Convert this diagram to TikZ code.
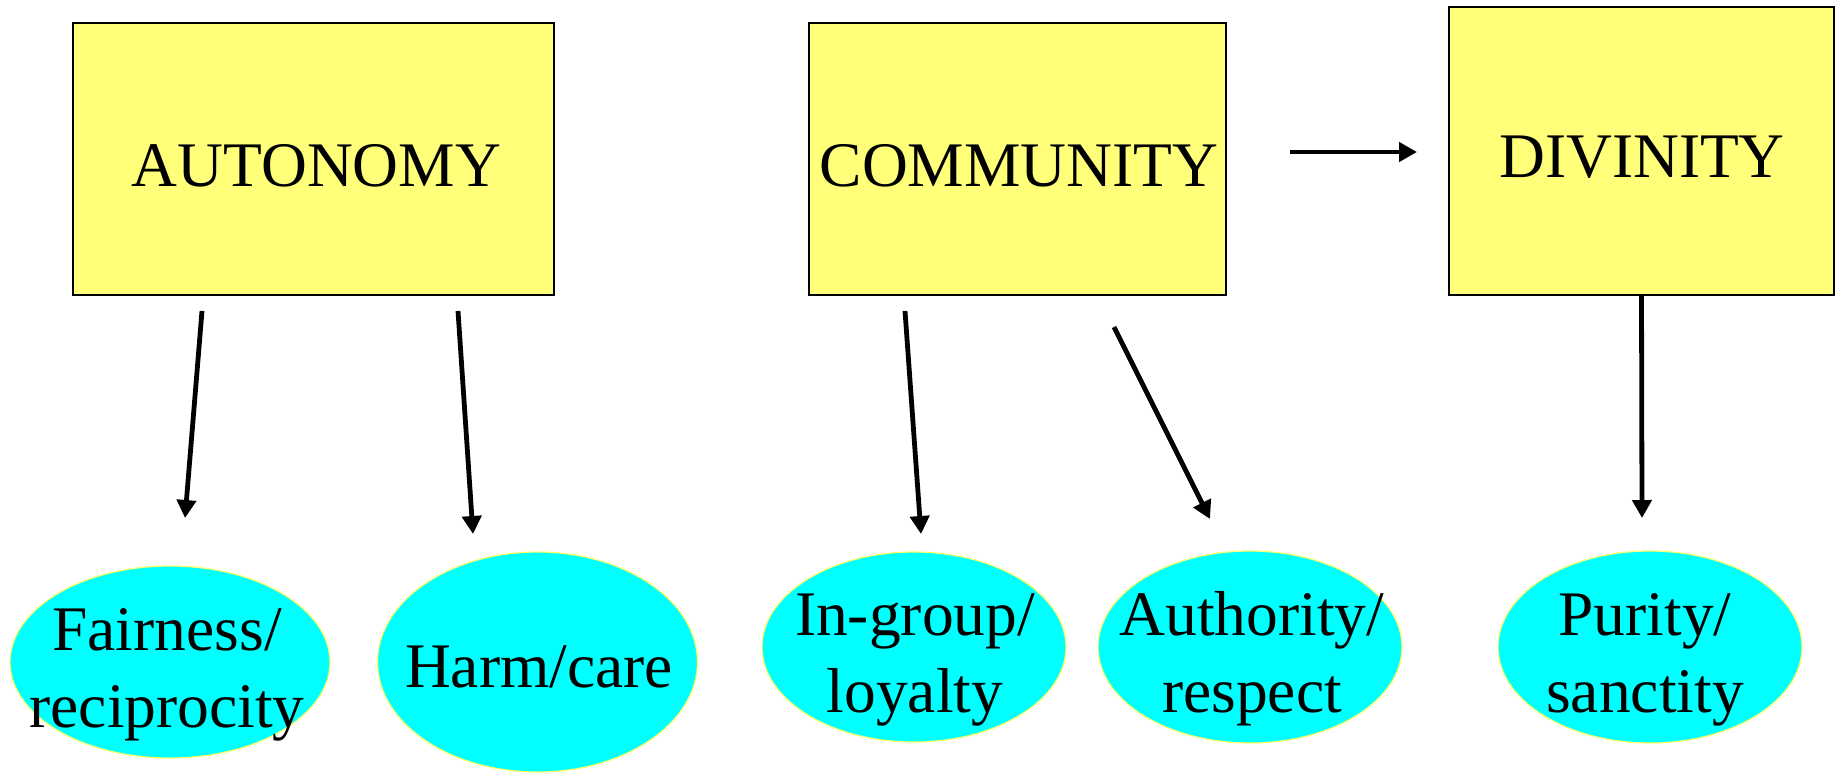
\documentclass[tikz,border=0pt]{standalone}
\usepackage{fontspec}
\setmainfont{Liberation Serif}
\usetikzlibrary{arrows.meta,shapes.geometric}
\definecolor{boxyellow}{RGB}{255,255,122}
\definecolor{leafcyan}{RGB}{0,255,255}
\definecolor{rimyellow}{RGB}{255,255,102}
\def\bigtext{\fontsize{31.75}{38.5}\selectfont}
\tikzset{
	ethic/.style={draw=black, line width=1pt, fill=boxyellow, inner sep=0pt},
	leaf/.style={ellipse, draw=rimyellow, line width=0.6pt, fill=leafcyan, inner sep=0pt},
	word/.style={font=\bigtext, inner sep=0pt, anchor=base, align=center},
	push/.style={line width=2.4pt, -{Triangle[length=9pt,width=9.5pt]}}
}

\begin{document}
\begin{tikzpicture}[x=0.5pt, y=-0.5pt]
	%%%%% START %%%%%
	\useasboundingbox (0, 0) rectangle (1836, 773);
	
	\node[ethic, minimum width=240.5pt, minimum height=136pt] (aut) at (313.5, 159) {};
	\node[word] (autword) at (316.5, 186) {AUTONOMY};
	
	\node[ethic, minimum width=208.5pt, minimum height=136pt] (com) at (1017.5, 159) {};
	\node[word] (comword) at (1019, 186) {COMMUNITY};
	
	\node[ethic, minimum width=192.5pt, minimum height=144pt] (div) at (1641.5, 151) {};
	\node[word] (divword) at (1642, 177) {DIVINITY};
	
	% two-line words sit on their last baseline
	\node[leaf, minimum width=160pt, minimum height=96pt] (fair) at (170, 662) {};
	\node[word] (fairword) at (167, 727) {Fairness/\\reciprocity};
	
	\node[leaf, minimum width=160pt, minimum height=110pt] (harm) at (537.5, 662) {};
	\node[word] (harmword) at (539, 687) {Harm/care};
	
	\node[leaf, minimum width=152pt, minimum height=95pt] (loyal) at (914, 647) {};
	\node[word] (loyalword) at (915, 712) {In-group/\\loyalty};
	
	\node[leaf, minimum width=152pt, minimum height=96pt] (auth) at (1250, 647) {};
	\node[word] (authword) at (1252, 712) {Authority/\\respect};
	
	\node[leaf, minimum width=152pt, minimum height=96pt] (pure) at (1650, 647) {};
	\node[word] (pureword) at (1645, 712) {Purity/\\sanctity};
	
	% loose arrow ends
	\coordinate (fairtop) at (202, 311);
	\coordinate (fairtip) at (185, 518);
	\coordinate (harmtop) at (458, 311);
	\coordinate (harmtip) at (473, 534);
	\coordinate (loyaltop) at (905, 311);
	\coordinate (loyaltip) at (921, 534);
	\coordinate (authtop) at (1114, 327);
	\coordinate (authtip) at (1210, 519);
	\coordinate (puretip) at (1642, 518);
	\coordinate (sidetail) at (1290, 152);
	\coordinate (sidetip) at (1417, 152);
	
	\draw[push] (fairtop) -- (fairtip);
	\draw[push] (harmtop) -- (harmtip);
	\draw[push] (loyaltop) -- (loyaltip);
	\draw[push] (authtop) -- (authtip);
	\draw[push] (div.south) -- (puretip);
	\draw[push] (sidetail) -- (sidetip);
	%%%%% END %%%%%
\end{tikzpicture}
\end{document}
